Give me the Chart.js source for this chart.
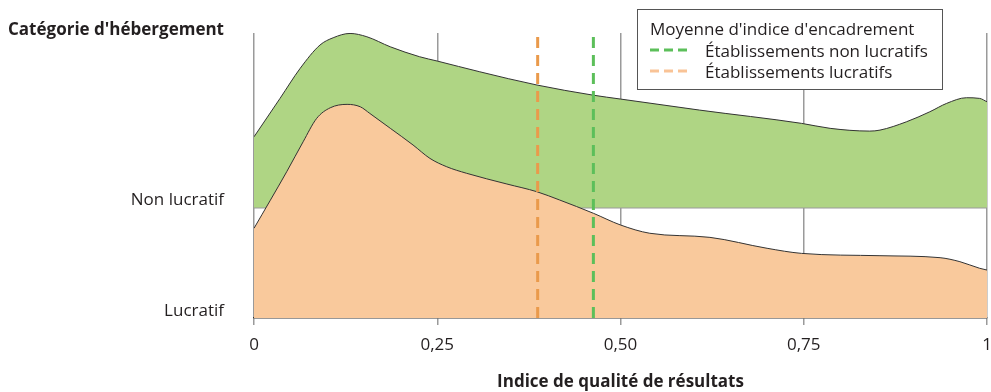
<!DOCTYPE html>
<html>
<head>
<meta charset="utf-8">
<script src="https://cdn.jsdelivr.net/npm/chart.js@4.4.1/dist/chart.umd.min.js"></script>
<style>
  html, body { margin: 0; padding: 0; background: #fff; }
  #wrap { width: 991px; height: 392px; position: relative; }
</style>
</head>
<body>
<div id="wrap"><canvas id="ridgeChart"></canvas></div>
<script>
'use strict';

// densité lissée, établissements non lucratifs
const nonLucratifX = [0, 0.0355, 0.063, 0.09, 0.108, 0.131, 0.154, 0.186, 0.226, 0.25, 0.308, 0.386, 0.462, 0.5, 0.608, 0.747, 0.786, 0.84, 0.854, 0.89, 0.922, 0.945, 0.972, 0.99, 1];
const nonLucratifD = [0.64, 0.988, 1.26, 1.471, 1.537, 1.576, 1.546, 1.455, 1.365, 1.326, 1.229, 1.109, 1.018, 0.982, 0.882, 0.762, 0.717, 0.692, 0.701, 0.776, 0.867, 0.943, 0.994, 0.988, 0.957];

// densité lissée, établissements lucratifs
const lucratifX = [0, 0.0446, 0.067, 0.0855, 0.104, 0.127, 0.145, 0.158, 0.186, 0.217, 0.24, 0.263, 0.29, 0.345, 0.386, 0.417, 0.463, 0.5, 0.54, 0.622, 0.7, 0.747, 0.854, 0.936, 0.963, 0.99, 1];
const lucratifD = [0.812, 1.324, 1.595, 1.807, 1.903, 1.934, 1.912, 1.852, 1.717, 1.566, 1.445, 1.369, 1.31, 1.213, 1.143, 1.068, 0.948, 0.842, 0.767, 0.73, 0.631, 0.585, 0.564, 0.546, 0.51, 0.45, 0.434];

// moyennes d'indice d'encadrement
const moyenneNonLucratif = 0.463;
const moyenneLucratif = 0.387;

const categories = ['Lucratif', 'Non lucratif'];
const xTicks = [0, 0.25, 0.5, 0.75, 1];
const xTickLabels = ['0', '0,25', '0,50', '0,75', '1'];
const legendTitle = "Moyenne d'indice d'encadrement";
const legendLabels = ['Établissements non lucratifs', 'Établissements lucratifs'];

const FONT = "'Open Sans', sans-serif";
const TEXT = '#231f20';
const Y_MAX = 2.58;

function toPoints(xs, ds, base) {
  return xs.map(function(x, i) { return { x: x, y: base + ds[i] }; });
}

// titre + légende encadrée
const overlayPlugin = {
  id: 'overlay',
  afterDraw(chart) {
    const ctx = chart.ctx;
    ctx.save();
    ctx.fillStyle = TEXT;
    ctx.font = 'bold 17px ' + FONT;
    ctx.textAlign = 'right';
    ctx.textBaseline = 'alphabetic';
    ctx.fillText("Catégorie d'hébergement", 224, 35);

    ctx.fillStyle = '#fff';
    ctx.fillRect(637.5, 9.5, 305, 80);
    ctx.strokeStyle = '#555';
    ctx.lineWidth = 1;
    ctx.strokeRect(637.5, 9.5, 305, 80);

    ctx.fillStyle = TEXT;
    ctx.font = '17px ' + FONT;
    ctx.textAlign = 'left';
    ctx.fillText(legendTitle, 650, 35);

    const swatch = ['#5cbf5a', '#f9c396'];
    [57, 78].forEach(function(y, i) {
      ctx.strokeStyle = swatch[i];
      ctx.lineWidth = 3;
      ctx.setLineDash([9, 5]);
      ctx.beginPath();
      ctx.moveTo(650, y - 7);
      ctx.lineTo(688, y - 7);
      ctx.stroke();
      ctx.setLineDash([]);
      ctx.fillText(legendLabels[i], 705, y);
    });
    ctx.restore();
  }
};

const ctx = document.querySelector('#ridgeChart').getContext('2d');
new Chart(ctx, {
  type: 'line',
  data: {
    datasets: [
      {
        label: legendLabels[0],
        data: [{ x: moyenneNonLucratif, y: 0 }, { x: moyenneNonLucratif, y: Y_MAX }],
        borderColor: '#5cbf5a',
        borderWidth: 3,
        borderDash: [11, 7],
        pointRadius: 0,
        fill: false
      },
      {
        label: legendLabels[1],
        data: [{ x: moyenneLucratif, y: 0 }, { x: moyenneLucratif, y: Y_MAX }],
        borderColor: '#ea9a4b',
        borderWidth: 3,
        borderDash: [11, 7],
        pointRadius: 0,
        fill: false
      },
      {
        label: categories[0],
        data: toPoints(lucratifX, lucratifD, 0),
        borderColor: '#333',
        borderWidth: 1,
        backgroundColor: '#f9c99c',
        fill: { value: 0 },
        cubicInterpolationMode: 'monotone',
        pointRadius: 0
      },
      {
        label: categories[1],
        data: toPoints(nonLucratifX, nonLucratifD, 1),
        borderColor: '#333',
        borderWidth: 1,
        backgroundColor: '#afd584',
        fill: { value: 1 },
        cubicInterpolationMode: 'monotone',
        pointRadius: 0
      }
    ]
  },
  options: {
    responsive: true,
    maintainAspectRatio: false,
    animation: false,
    layout: { padding: { top: 33, right: 0, left: 0, bottom: 0 } },
    plugins: {
      legend: { display: false },
      tooltip: { enabled: false }
    },
    scales: {
      x: {
        type: 'linear',
        min: 0,
        max: 1,
        afterFit: function(s) {
          s.height = 74;
          s.paddingLeft = 0;
          s.paddingRight = 4;
        },
        afterBuildTicks: function(s) { s.ticks = xTicks.map(function(v) { return { value: v }; }); },
        ticks: {
          color: TEXT,
          font: { family: FONT, size: 17 },
          padding: 10,
          maxRotation: 0,
          callback: function(v) { return xTickLabels[xTicks.indexOf(v)]; }
        },
        grid: { color: '#9a9a9a', lineWidth: 1.5, tickLength: 7 },
        border: { display: true, color: '#333', width: 1.5 },
        title: {
          display: true,
          text: 'Indice de qualité de résultats',
          color: TEXT,
          font: { family: FONT, size: 17, weight: 'bold' },
          padding: { top: 0, bottom: 0 }
        }
      },
      y: {
        type: 'linear',
        min: 0,
        max: Y_MAX,
        afterFit: function(s) {
          s.width = 254;
          s.paddingTop = 0;
          s.paddingBottom = 0;
        },
        afterBuildTicks: function(s) { s.ticks = [{ value: 0 }, { value: 1 }]; },
        ticks: {
          color: TEXT,
          font: { family: FONT, size: 17 },
          padding: 30,
          labelOffset: -7,
          callback: function(v) { return categories[v]; }
        },
        grid: {
          drawTicks: false,
          lineWidth: 1.5,
          color: function(c) { return c.tick && c.tick.value === 1 ? '#9a9a9a' : 'rgba(0,0,0,0)'; }
        },
        border: { display: false }
      }
    }
  },
  plugins: [overlayPlugin]
});
</script>
</body>
</html>
